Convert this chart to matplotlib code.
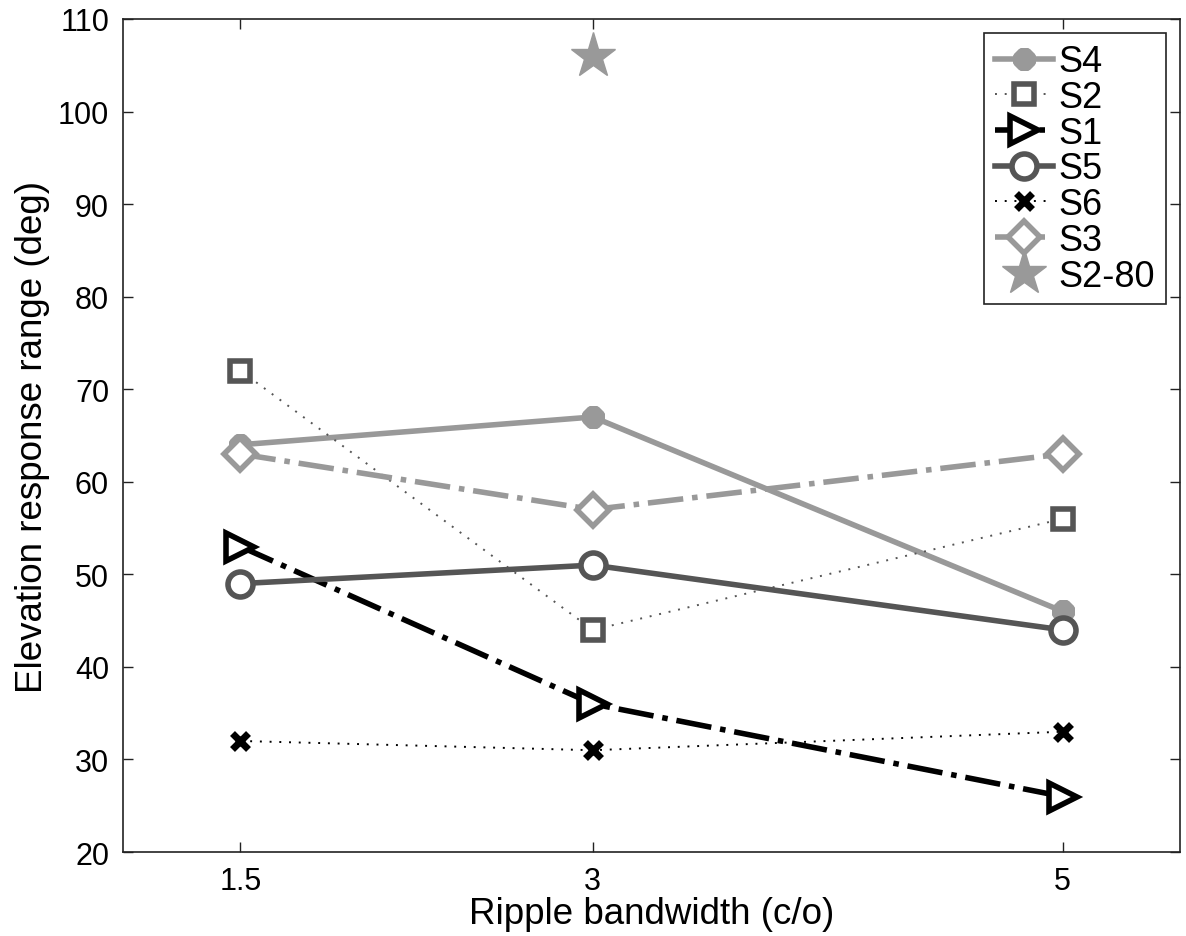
import matplotlib
matplotlib.use("Agg")
import matplotlib.pyplot as plt

# ripple bandwidths (cycles/octave)
bandwidth = [1.5, 3, 5]

# elevation response range (deg) per subject
s4 = [64, 67, 46]
s2 = [72, 44, 56]
s1 = [53, 36, 26]
s5 = [49, 51, 44]
s6 = [32, 31, 33]
s3 = [63, 57, 63]
s2_80_x = [3]
s2_80 = [106]

light = "#999999"
dark = "#555555"

plt.rcParams["font.family"] = ["Liberation Sans", "DejaVu Sans"]

fig = plt.figure(figsize=(11.86, 9.37), dpi=100)
ax = fig.add_axes([0.1037, 0.0896, 0.8913, 0.8891])

ax.plot(bandwidth, s4, color=light, lw=4, marker=(8, 2, 0), ms=16, mew=6,
        label="S4")
ax.plot(bandwidth, s2, color=dark, lw=1.4, ls=(0, (1, 4)), marker="s", ms=14,
        mew=4, mfc="white", mec=dark, label="S2")
ax.plot(bandwidth, s1, color="black", lw=4, ls="-.", marker=">", ms=20,
        mew=4, mfc="white", mec="black", label="S1")
ax.plot(bandwidth, s5, color=dark, lw=4, marker="o", ms=18, mew=4,
        mfc="white", mec=dark, label="S5")
ax.plot(bandwidth, s6, color="black", lw=1.4, ls=(0, (1, 4)), marker="x",
        ms=11, mew=5, label="S6")
ax.plot(bandwidth, s3, color=light, lw=4, ls="-.", marker="D", ms=16, mew=4,
        mfc="white", mec=light, label="S3")
ax.plot(s2_80_x, s2_80, color=light, ls="none", marker="*", ms=34,
        label="S2-80")

ax.set_xlim(1, 5.5)
ax.set_ylim(20, 110)
ax.set_xticks(bandwidth)
ax.set_xticklabels(["1.5", "3", "5"])
ax.set_yticks(range(20, 111, 10))

ax.tick_params(direction="in", length=7, width=1, top=True, right=True,
               labelsize=22, pad=10, colors="#222222", labelcolor="black")
for spine in ax.spines.values():
    spine.set_linewidth(1.2)
    spine.set_color("#222222")

ax.set_xlabel("Ripple bandwidth (c/o)", fontsize=26.5, labelpad=0)
ax.set_ylabel("Elevation response range (deg)", fontsize=26.5, labelpad=6)

leg = ax.legend(loc="upper right", fontsize=26, fancybox=False,
                edgecolor="#222222", framealpha=1, handlelength=1.6,
                handletextpad=0.15, labelspacing=0.02, borderpad=0.3,
                borderaxespad=0.4)
leg.get_frame().set_linewidth(1.2)

fig.savefig("out.png", dpi=100)
